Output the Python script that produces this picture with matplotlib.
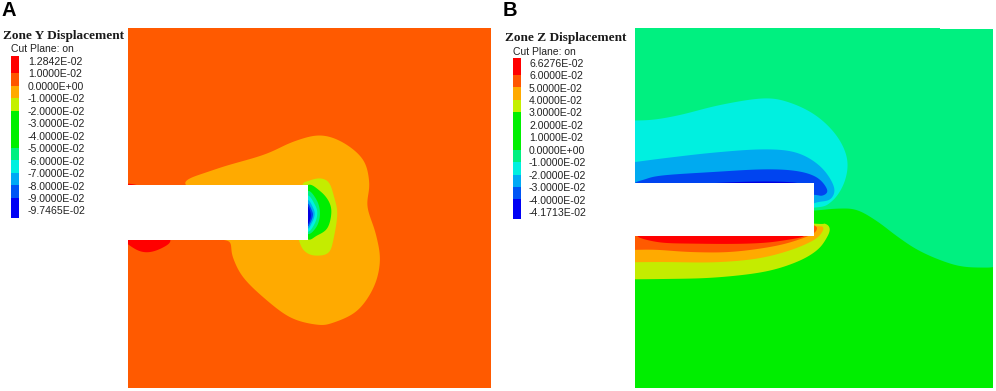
import numpy as np
import matplotlib
matplotlib.use("Agg")
import matplotlib.pyplot as plt
from matplotlib.patches import Rectangle

W = 996
H = 391

# legend values
labels_a = ["1.2842E-02", "1.0000E-02", "0.0000E+00", "-1.0000E-02", "-2.0000E-02", "-3.0000E-02", "-4.0000E-02",
            "-5.0000E-02", "-6.0000E-02", "-7.0000E-02", "-8.0000E-02", "-9.0000E-02", "-9.7465E-02"]
labels_b = ["6.6276E-02", "6.0000E-02", "5.0000E-02", "4.0000E-02", "3.0000E-02", "2.0000E-02", "1.0000E-02",
            "0.0000E+00", "-1.0000E-02", "-2.0000E-02", "-3.0000E-02", "-4.0000E-02", "-4.1713E-02"]
band_colors = ["#ff0000", "#ff5500", "#ffaa00", "#c4f000", "#00f000", "#00f000", "#00f000",
               "#00f080", "#00f0e0", "#00aaf5", "#0055f5", "#0000f5"]

RED = "#ff0000"
RORANGE = "#ff5a00"
ORANGE = "#ffaa00"
LIME = "#c4ec00"
GREEN = "#00ee00"
SPRING = "#00f080"
CYAN = "#00f0e0"
SKY = "#00aaf0"
BLUE = "#0044f0"
NAVY = "#0000e0"

# contour outlines, panel A
a_orange = [(195, 198), (280, 150), (430, 105), (520, 65), (600, 46), (670, 68), (730, 120), (748, 190), (742, 260),
            (767, 340), (780, 420), (762, 500), (712, 572), (640, 608), (590, 614), (510, 592), (430, 532), (368, 470),
            (338, 410), (330, 366), (300, 350), (400, 280)]
a_lime = [(545, 198), (565, 183), (600, 175), (627, 188), (642, 230), (652, 280), (642, 350), (627, 397), (590, 407),
          (558, 397), (538, 365), (520, 280)]
a_green = [(560, 196), (600, 213), (627, 245), (634, 280), (622, 325), (590, 347), (560, 356), (530, 280)]
a_spring = [(560, 212), (590, 240), (600, 280), (590, 320), (560, 342), (530, 280)]
a_cyan = [(560, 225), (585, 255), (592, 282), (582, 315), (560, 335), (530, 280)]
a_sky = [(560, 238), (580, 265), (584, 285), (575, 310), (560, 326), (530, 280)]
a_blue = [(560, 248), (577, 275), (578, 290), (570, 310), (560, 318), (530, 280)]
a_navy = [(560, 256), (572, 280), (570, 300), (560, 312), (530, 280)]
a_red_low = [(-10, 340), (40, 384), (80, 397), (122, 386), (152, 362), (120, 330), (30, 320)]
a_red_top = [(0, 200), (25, 191), (60, 200), (25, 215)]
a_slot = (0, 196, 565, 164)

# contour outlines, panel B
b_cyan = [(-120, 91), (-30, 91), (60, 90), (150, 75), (270, 45), (400, 25), (480, 38), (560, 78), (622, 140), (652, 210),
          (642, 280), (602, 337), (540, 354), (300, 360), (-120, 360)]
b_sky = [(-120, 222), (-30, 221), (100, 205), (250, 188), (400, 178), (500, 188), (572, 230), (612, 290), (602, 327),
         (560, 337), (500, 350), (250, 350), (-120, 340)]
b_blue = [(14, 285), (45, 268), (100, 256), (250, 246), (400, 238), (500, 243), (562, 263), (592, 300), (577, 317),
          (540, 314), (400, 320), (100, 320)]
b_navy = [(140, 290), (300, 277), (450, 275), (500, 285), (300, 320)]
b_green = [(530, 363), (620, 356), (680, 360), (740, 393), (800, 438), (860, 478), (930, 510), (1000, 530), (1090, 533),
           (1200, 535), (1250, 1000), (-100, 1000), (-100, 400), (300, 370)]
b_lime = [(-120, 568), (-30, 568), (100, 567), (250, 563), (400, 546), (500, 516), (562, 480), (592, 440), (599, 415),
          (585, 401), (550, 401), (300, 380), (-120, 400)]
b_orange = [(-120, 517), (-30, 517), (100, 516), (250, 517), (380, 506), (480, 481), (552, 450), (577, 425), (577, 410),
            (550, 408), (300, 390), (-120, 410)]
b_rorange = [(-120, 482), (-30, 481), (70, 479), (180, 486), (300, 486), (420, 471), (500, 451), (557, 425), (530, 400),
             (300, 390), (-120, 410)]
b_red = [(30, 430), (80, 456), (200, 461), (350, 461), (450, 453), (522, 432), (300, 400)]
b_slot = (0, 280, 552, 158)
b_step = (930, -186, 170, 3)


def smooth(pts, n=24):
    # closed catmull-rom through the outline points, then a running mean to take the kinks out
    p = np.array(pts, dtype=float)
    out = []
    t = np.linspace(0, 1, n, endpoint=False)[:, None]
    for i in range(len(p)):
        p0, p1, p2, p3 = p[i - 1], p[i], p[(i + 1) % len(p)], p[(i + 2) % len(p)]
        out.append(0.5 * (2 * p1 + (p2 - p0) * t + (2 * p0 - 5 * p1 + 4 * p2 - p3) * t ** 2
                          + (3 * p1 - p0 - 3 * p2 + p3) * t ** 3))
    out = np.vstack(out)
    k = np.ones(n // 2) / (n // 2)
    wrapped = np.vstack([out[-n:], out, out[:n]])
    xs = np.convolve(wrapped[:, 0], k, mode="same")[n:-n]
    ys = np.convolve(wrapped[:, 1], k, mode="same")[n:-n]
    return np.column_stack([xs, ys])


def px_axes(fig, x0, y0, x1, y1):
    ax = fig.add_axes([x0 / W, 1 - y1 / H, (x1 - x0) / W, (y1 - y0) / H])
    ax.set_xticks([])
    ax.set_yticks([])
    for s in ax.spines.values():
        s.set_visible(False)
    return ax


def draw_regions(ax, regions):
    for pts, col in regions:
        xy = smooth(pts)
        ax.fill(xy[:, 0], xy[:, 1], color=col, lw=0)


def draw_legend(ax, x, title_x, title_y, cut_x, cut_y, sw_x, sw_top, first_y, step, labels):
    ax.text(title_x, title_y, "Zone %s Displacement" % ("Y" if labels is labels_a else "Z"), family="Liberation Serif",
            weight="bold", fontsize=9.5, color="#1a1a1a", va="center")
    ax.text(cut_x, cut_y, "Cut Plane: on", family="Liberation Sans", fontsize=7.5, color="#222222", va="center")
    for i, lab in enumerate(labels):
        ax.text(x, first_y + i * step, lab, family="Liberation Sans", fontsize=7.6, color="#222222", va="center")
    edges = [sw_top] + [first_y + (i + 0.9) * step for i in range(11)] + [first_y + 12.5 * step]
    for i, col in enumerate(band_colors):
        ax.add_patch(Rectangle((sw_x, edges[i]), 8.7, edges[i + 1] - edges[i], color=col, lw=0))


fig = plt.figure(figsize=(W / 100, H / 100), dpi=100)

ax_a = px_axes(fig, 127.5, 28, 491, 388)
ax_a.set_xlim(22.5, 1113)
ax_a.set_ylim(804, -276)
ax_a.set_facecolor(RORANGE)
draw_regions(ax_a, [(a_orange, ORANGE), (a_lime, LIME), (a_green, GREEN), (a_spring, SPRING), (a_cyan, CYAN),
                    (a_sky, SKY), (a_blue, BLUE), (a_navy, NAVY), (a_red_low, RED), (a_red_top, RED)])
ax_a.add_patch(Rectangle(a_slot[:2], a_slot[2], a_slot[3], color="white", lw=0))

ax_b = px_axes(fig, 635, 28, 993, 388)
ax_b.set_xlim(15, 1089)
ax_b.set_ylim(894, -186)
ax_b.set_facecolor(SPRING)
draw_regions(ax_b, [(b_green, GREEN), (b_cyan, CYAN), (b_sky, SKY), (b_blue, BLUE), (b_navy, NAVY), (b_lime, LIME),
                    (b_orange, ORANGE), (b_rorange, RORANGE), (b_red, RED)])
ax_b.add_patch(Rectangle(b_slot[:2], b_slot[2], b_slot[3], color="white", lw=0))
ax_b.add_patch(Rectangle(b_step[:2], b_step[2], b_step[3], color="white", lw=0))

# legends and panel letters sit on an overlay in pixel units
over = fig.add_axes([0, 0, 1, 1])
over.set_xlim(0, W)
over.set_ylim(H, 0)
over.axis("off")
over.text(2, 11, "A", family="Liberation Sans", weight="bold", fontsize=14.5, color="black", va="center")
over.text(503, 11, "B", family="Liberation Sans", weight="bold", fontsize=14.5, color="black", va="center")
draw_legend(over, 28, 3, 35.5, 11, 49.5, 10.7, 55.7, 62, 12.45, labels_a)
draw_legend(over, 529, 505, 38, 513, 52, 512.7, 57.7, 63.7, 12.45, labels_b)

fig.savefig("out.png", dpi=100)
